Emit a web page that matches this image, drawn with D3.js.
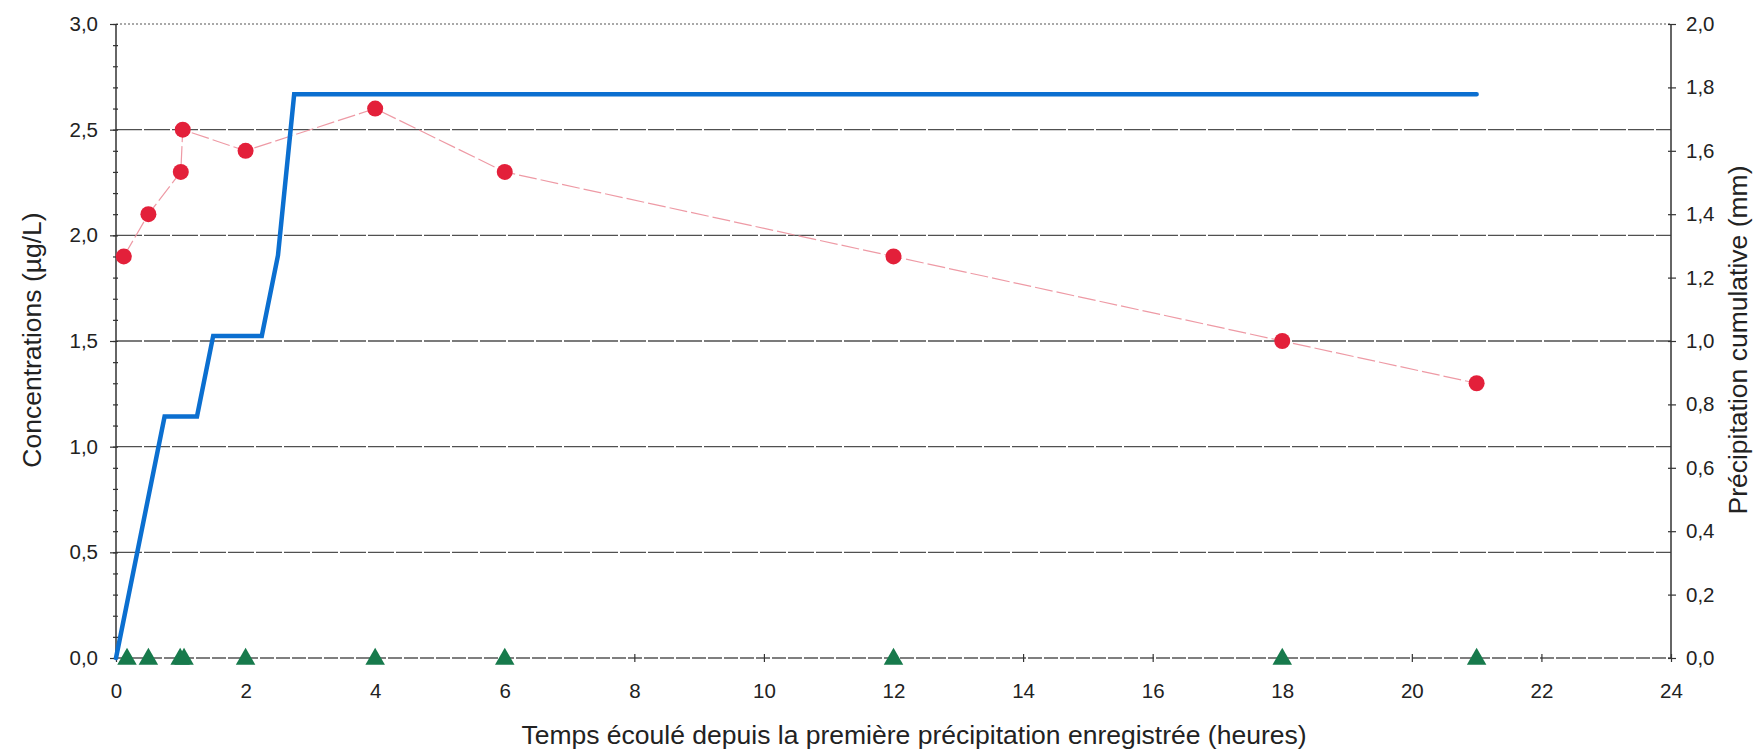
<!DOCTYPE html>
<html>
<head>
<meta charset="utf-8">
<script src="https://cdn.jsdelivr.net/npm/d3@7"></script>
<style>
    body { margin: 0; background: #fff; }
    svg { display: block; font-family: "Liberation Sans", Arial, sans-serif; }
    .axis text { font-size: 20.5px; fill: #222; }
    .axis .domain { display: none; }
    .title { font-size: 26.5px; fill: #222; }
</style>
</head>
<body>
<svg id="chart" width="1754" height="756"></svg>
<script>
// data

// concentrations (µg/L), left axis
var concHours = [0.12, 0.5, 1.0, 1.03, 2, 4, 6, 12, 18, 21],
    concValues = [1.9, 2.1, 2.3, 2.5, 2.4, 2.6, 2.3, 1.9, 1.5, 1.3];

// non-detect samples (triangles), left axis
var ndHours = [0.17, 0.5, 0.99, 1.05, 2, 4, 6, 12, 18, 21],
    ndValues = [0, 0, 0, 0, 0, 0, 0, 0, 0, 0];

// cumulative precipitation (mm), right axis
var rainHours = [0, 0.75, 1.25, 1.5, 2.25, 2.5, 2.75, 21],
    rainValues = [0, 0.762, 0.762, 1.016, 1.016, 1.27, 1.778, 1.778];

var xTicks = [0, 2, 4, 6, 8, 10, 12, 14, 16, 18, 20, 22, 24],
    leftTicks = [0, 0.5, 1.0, 1.5, 2.0, 2.5, 3.0],
    rightTicks = [0, 0.2, 0.4, 0.6, 0.8, 1.0, 1.2, 1.4, 1.6, 1.8, 2.0];

var xTitle = "Temps écoulé depuis la première précipitation enregistrée (heures)",
    leftTitle = "Concentrations (µg/L)",
    rightTitle = "Précipitation cumulative (mm)";

// layout
var width = 1754,
    height = 756,
    plotLeft = 116,
    plotRight = 1671,
    plotTop = 24,
    plotBottom = 658;

var fr = d3.formatLocale({ decimal: ",", thousands: " ", grouping: [3], currency: ["", " €"] });
var fmt = fr.format(".1f");

var x = d3.scaleLinear().domain([0, 24]).range([plotLeft, plotRight]);
var y = d3.scaleLinear().domain([0, 3]).range([plotBottom, plotTop]);
var y2 = d3.scaleLinear().domain([0, 2]).range([plotBottom, plotTop]);

var svg = d3.select("#chart");

svg.append("rect")
    .attr("width", width)
    .attr("height", height)
    .attr("fill", "#fff");

// horizontal gridlines
svg.append("g")
    .selectAll("line")
    .data(leftTicks.filter(function (d) { return d > 0 && d < 3; }))
    .enter()
    .append("line")
    .attr("x1", plotLeft)
    .attr("x2", plotRight)
    .attr("y1", function (d) { return y(d); })
    .attr("y2", function (d) { return y(d); })
    .style("stroke", "#505050")
    .style("stroke-width", 1.4)
    .style("stroke-dasharray", "26,2");

// top border (dotted)
svg.append("line")
    .attr("x1", plotLeft)
    .attr("x2", plotRight)
    .attr("y1", y(3))
    .attr("y2", y(3))
    .style("stroke", "#555")
    .style("stroke-width", 1.2)
    .style("stroke-dasharray", "2,2");

// bottom axis line
svg.append("line")
    .attr("x1", plotLeft)
    .attr("x2", plotRight)
    .attr("y1", y(0))
    .attr("y2", y(0))
    .style("stroke", "#555")
    .style("stroke-width", 1.4)
    .style("stroke-dasharray", "14,2");

// vertical axis lines
[plotLeft, plotRight].forEach(function (px) {
    svg.append("line")
        .attr("x1", px)
        .attr("x2", px)
        .attr("y1", plotTop)
        .attr("y2", plotBottom)
        .style("stroke", "#333")
        .style("stroke-width", 1.5);
});

// left axis: minor ticks crossing, major ticks outside with labels
var minor = d3.range(0, 3.001, 0.1);

svg.append("g")
    .attr("class", "axis")
    .attr("transform", "translate(" + plotLeft + ",0)")
    .call(d3.axisLeft(y).tickValues(minor).tickSize(3).tickSizeOuter(0).tickFormat(""));

svg.append("g")
    .attr("class", "axis")
    .attr("transform", "translate(" + plotLeft + ",0)")
    .call(d3.axisLeft(y).tickValues(minor).tickSize(-2).tickSizeOuter(0).tickFormat(""));

svg.append("g")
    .attr("class", "axis")
    .attr("transform", "translate(" + plotLeft + ",0)")
    .call(d3.axisLeft(y).tickValues(leftTicks).tickSize(6).tickPadding(12).tickSizeOuter(0).tickFormat(fmt));

// right axis
svg.append("g")
    .attr("class", "axis")
    .attr("transform", "translate(" + plotRight + ",0)")
    .call(d3.axisRight(y2).tickValues(rightTicks).tickSize(-3).tickSizeOuter(0).tickFormat(""));

svg.append("g")
    .attr("class", "axis")
    .attr("transform", "translate(" + plotRight + ",0)")
    .call(d3.axisRight(y2).tickValues(rightTicks).tickSize(5).tickPadding(10).tickSizeOuter(0).tickFormat(fmt));

// bottom axis
svg.append("g")
    .attr("class", "axis")
    .attr("transform", "translate(0," + plotBottom + ")")
    .call(d3.axisBottom(x).tickValues(xTicks).tickSize(-4).tickSizeOuter(0).tickFormat(""));

svg.append("g")
    .attr("class", "axis")
    .attr("transform", "translate(0," + plotBottom + ")")
    .call(d3.axisBottom(x).tickValues(xTicks).tickSize(4).tickPadding(21).tickSizeOuter(0).tickFormat(d3.format("d")));

svg.selectAll(".axis .tick line")
    .style("stroke", "#333")
    .style("stroke-width", 1.2);

// titles
svg.append("text")
    .attr("class", "title")
    .attr("x", 914)
    .attr("y", 744)
    .attr("text-anchor", "middle")
    .text(xTitle);

svg.append("text")
    .attr("class", "title")
    .attr("transform", "translate(41,340) rotate(-90)")
    .attr("text-anchor", "middle")
    .text(leftTitle);

svg.append("text")
    .attr("class", "title")
    .attr("transform", "translate(1747,340) rotate(-90)")
    .attr("text-anchor", "middle")
    .text(rightTitle);

// concentration line (thin, pink dashed)
var conc = concHours.map(function (h, i) { return { h: h, v: concValues[i] }; });
var nd = ndHours.map(function (h, i) { return { h: h, v: ndValues[i] }; });
var rain = rainHours.map(function (h, i) { return { h: h, v: rainValues[i] }; });

var concLine = d3.line()
    .x(function (d) { return x(d.h); })
    .y(function (d) { return y(d.v); });

svg.append("path")
    .datum(conc)
    .attr("d", concLine)
    .attr("fill", "none")
    .style("stroke", "#ee9aa5")
    .style("stroke-width", 1.2)
    .style("stroke-dasharray", "18,4");

// cumulative precipitation
var rainLine = d3.line()
    .x(function (d) { return x(d.h); })
    .y(function (d) { return y2(d.v); });

svg.append("path")
    .datum(rain)
    .attr("d", rainLine)
    .attr("fill", "none")
    .style("stroke", "#0b6fd0")
    .style("stroke-width", 4.5)
    .style("stroke-linejoin", "miter")
    .style("stroke-linecap", "round");

// circles
svg.append("g")
    .selectAll("circle")
    .data(conc)
    .enter()
    .append("circle")
    .attr("cx", function (d) { return x(d.h); })
    .attr("cy", function (d) { return y(d.v); })
    .attr("r", 8)
    .attr("fill", "#e3203a");

// triangles
var tri = d3.symbol().type(d3.symbolTriangle).size(165);

svg.append("g")
    .selectAll("path")
    .data(nd)
    .enter()
    .append("path")
    .attr("d", tri)
    .attr("transform", function (d) { return "translate(" + x(d.h) + "," + (y(d.v) + 1) + ")"; })
    .attr("fill", "#177a4c");
</script>
</body>
</html>
